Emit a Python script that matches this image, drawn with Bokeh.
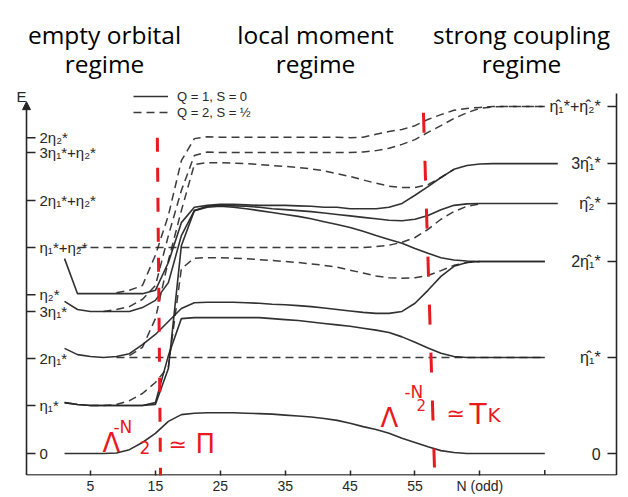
import numpy as np
from bokeh.plotting import figure
from bokeh.models import (Range1d, FixedTicker, Legend, LegendItem,
                          Arrow, NormalHead, ColumnDataSource)
from bokeh.embed import file_html
from bokeh.resources import INLINE
from bokeh.core.properties import value

# ---------------------------------------------------------------- data
# iteration number N (odd) and energy levels E (units of eta1*)
N = [1, 3, 5, 7, 9, 11, 13, 15, 17, 19, 21, 23, 25, 27, 29, 31, 33, 35, 37, 39,
     41, 43, 45, 47, 49, 51, 53, 55, 57, 59, 61, 63, 65, 67, 69, 71, 73, 75, 77]

# Q=1, S=0 (solid)
S_eta2 = [4.06, 3.33, 3.33, 3.33, 3.33, 3.33, 3.33, 3.40, 3.98, 4.81, 5.13, 5.17, 5.19,
          5.19, 5.18, 5.17, 5.17, 5.17, 5.16, 5.15, 5.13, 5.13, 5.10, 5.10, 5.10, 5.13,
          5.21, 5.38, 5.56, 5.75, 5.92, 6.00, 6.03, 6.04, 6.04, 6.04, 6.04, 6.04, 6.04]
S_3eta1 = [3.17, 3.00, 2.96, 2.96, 2.96, 2.96, 3.04, 3.19, 3.56, 4.54, 5.06, 5.15, 5.17,
           5.16, 5.15, 5.13, 5.10, 5.08, 5.06, 5.04, 5.01, 4.98, 4.95, 4.92, 4.89, 4.86,
           4.85, 4.88, 4.96, 5.08, 5.17, 5.20, 5.21, 5.21, 5.21, 5.21, 5.21, 5.21, 5.21]
S_eta1_up = [1.06, 1.02, 1.00, 1.00, 1.00, 1.00, 1.00, 1.02, 1.77, 4.33, 5.06, 5.13, 5.15,
             5.13, 5.10, 5.06, 5.02, 4.98, 4.94, 4.89, 4.83, 4.77, 4.71, 4.63, 4.54, 4.46,
             4.38, 4.27, 4.17, 4.08, 4.03, 4.01, 4.00, 4.00, 4.00, 4.00, 4.00, 4.00, None]
S_2eta1 = [2.19, 2.06, 2.02, 2.00, 2.02, 2.08, 2.27, 2.48, 2.75, 3.02, 3.14, 3.15, 3.15,
           3.15, 3.14, 3.13, 3.11, 3.10, 3.08, 3.06, 3.03, 3.00, 2.97, 2.94, 2.92, 2.92,
           2.96, 3.13, 3.40, 3.69, 3.90, 3.98, 4.00, 4.00, 4.00, 4.00, 4.00, 4.00, None]
S_eta1 = [1.06, 1.02, 1.00, 1.00, 1.00, 1.00, 1.00, 1.06, 2.04, 2.81, 2.83, 2.83, 2.83,
          2.83, 2.83, 2.83, 2.81, 2.79, 2.77, 2.74, 2.71, 2.68, 2.65, 2.61, 2.57, 2.52,
          2.43, 2.32, 2.20, 2.09, 2.02, 2.00, 2.00, 2.00, 2.00, 2.00, 2.00, 2.00, None]
S_zero = [0.00, 0.00, 0.00, 0.00, 0.01, 0.08, 0.23, 0.42, 0.67, 0.81, 0.84, 0.85, 0.85,
          0.85, 0.84, 0.83, 0.82, 0.80, 0.78, 0.76, 0.73, 0.69, 0.63, 0.56, 0.50, 0.42,
          0.32, 0.23, 0.14, 0.06, 0.02, 0.00, 0.00, 0.00, 0.00, 0.00, 0.00, 0.00, None]

# Q=2, S=1/2 (dashed)
D_sum = [None, 4.29, 4.29, 4.29, 4.29, 4.29, 4.29, 4.29, 4.29, 4.29, 4.29, 4.29, 4.29,
         4.29, 4.29, 4.29, 4.29, 4.29, 4.29, 4.29, 4.29, 4.29, 4.29, 4.29, 4.31, 4.34,
         4.40, 4.50, 4.67, 4.88, 5.04, 5.15, 5.20, None, None, None, None, None, None]
D_eta2 = [None, None, None, None, 3.35, 3.40, 3.50, 4.13, 4.96, 6.10, 6.56, 6.60, 6.59,
          6.59, 6.59, 6.59, 6.59, 6.59, 6.59, 6.59, 6.59, 6.59, 6.58, 6.59, 6.65, 6.71,
          6.75, 6.83, 6.96, 7.06, 7.15, 7.19, 7.21, 7.23, 7.23, 7.23, 7.23, 7.23, None]
D_3eta1 = [None, None, None, 2.96, 3.00, 3.06, 3.21, 3.50, 4.54, 5.48, 6.21, 6.28, 6.27,
           6.27, 6.27, 6.27, 6.27, 6.27, 6.27, 6.27, 6.27, 6.27, 6.27, 6.28, 6.31, 6.36,
           6.44, 6.54, 6.69, 6.83, 6.98, 7.10, 7.19, 7.22, 7.23, 7.23, 7.23, 7.23, None]
D_2eta1_up = [None, None, None, None, None, 2.04, 2.21, 2.81, 4.02, 5.06, 6.02, 6.06, 6.06,
              6.05, 6.04, 6.02, 6.00, 5.98, 5.96, 5.93, 5.89, 5.83, 5.77, 5.70, 5.63, 5.57,
              5.54, 5.54, 5.60, 5.75, 5.92, None, None, None, None, None, None, None, None]
D_2eta1 = [None, None, None, None, 2.00, 2.00, 2.00, 2.00, 2.00, 2.00, 2.00, 2.00, 2.00,
           2.00, 2.00, 2.00, 2.00, 2.00, 2.00, 2.00, 2.00, 2.00, 2.00, 2.00, 2.00, 2.00,
           2.00, 2.00, 2.00, 2.00, 2.00, 2.00, 2.00, 2.00, 2.00, 2.00, 2.00, 2.00, None]
D_eta1 = [None, None, 1.00, 1.00, 1.02, 1.10, 1.25, 1.48, 1.81, 3.85, 4.07, 4.08, 4.08,
          4.07, 4.06, 4.04, 4.02, 4.00, 3.98, 3.95, 3.92, 3.88, 3.82, 3.76, 3.70, 3.66,
          3.65, 3.66, 3.71, 3.81, 3.92, 3.98, 4.00, None, None, None, None, None, None]

SOLID = [S_eta2, S_3eta1, S_eta1_up, S_2eta1, S_eta1, S_zero]
DASHED = [D_sum, D_eta2, D_3eta1, D_2eta1_up, D_2eta1, D_eta1]

# axis ticks and labels
X_TICKS = [5, 15, 25, 35, 45, 55, 65]
X_EXTRA_TICK = [75]
LEFT_TICKS = [0.0, 1.0, 1.98, 2.96, 3.31, 4.29, 5.27, 6.27, 6.58]
LEFT_LABELS = ["0", "η₁*", "2η₁*", "3η₁*", "η₂*", "η₁*+η₂*", "2η₁*+η₂*", "3η₁*+η₂*", "2η₂*"]
RIGHT_TICKS = [0.0, 2.0, 4.0, 5.21, 6.04, 7.23]
RIGHT_LABELS = ["0", "η̂₁*", "2η̂₁*", "η̂₂*", "3η̂₁*", "η̂₁*+η̂₂*"]

REGIMES = ["empty orbital", "local moment", "strong coupling"]
REGIME_N = [7.16, 39.67, 71.41]

# red hand annotations (crossover scales)
RED_LINE1 = [15.3, 6.58, 15.8, -0.56]
RED_LINE2 = [56.3, 7.10, 58.0, -0.29]
RED_TEXT = ["Λ", "-N", "2", "≃", "Π", "Λ", "-N", "2", "≃", "T", "K"]
RED_N = [6.85, 8.54, 12.55, 17.02, 21.18, 49.68, 53.38, 55.23, 59.85, 63.40, 66.17]
RED_E = [0.229, 0.542, 0.125, 0.19, 0.208, 0.75, 1.29, 1.02, 0.833, 0.81, 0.81]
RED_SIZE = ["26px", "17px", "17px", "22px", "26px", "26px", "17px", "15px", "22px", "28px", "20px"]

# ---------------------------------------------------------------- style / geometry
INK = "#262626"
RED = "#e8191f"
X0, X1 = -8.867, 87.897          # frame spans the whole page width
Y0, Y1 = -0.458, 9.4375          # frame from page top to the N axis
AXIS_N_LEFT, AXIS_N_RIGHT = -4.86, 86.05
AXIS_E_BOTTOM = -0.449
TICK_LEN_N, TICK_LEN_E = 1.39, 0.105


def arr(v):
    return np.array([np.nan if a is None else a for a in v], dtype=float)


p = figure(frame_width=628, frame_height=475,
           x_range=Range1d(X0, X1), y_range=Range1d(Y0, Y1), y_axis_location=None,
           output_backend="svg", toolbar_location=None,
           min_border_left=0, min_border_right=0, min_border_top=0, min_border_bottom=0,
           outline_line_color=None, background_fill_color="white", border_fill_color="white")
p.grid.visible = False

# bottom axis (labels + inward ticks); its line is drawn between the two vertical axes
xa = p.xaxis[0]
xa.ticker = FixedTicker(ticks=X_TICKS)
xa.major_label_overrides = {65: "N (odd)"}
xa.major_label_text_font = "Liberation Sans"
xa.major_label_text_font_size = "14px"
xa.major_label_text_color = INK
xa.major_label_standoff = 2
xa.major_tick_in = 5
xa.major_tick_out = 0
xa.minor_tick_line_color = None
xa.axis_line_color = None
xa.major_tick_line_color = INK
xa.major_tick_line_width = 1.5

p.segment(x0=[AXIS_N_LEFT], y0=[AXIS_E_BOTTOM], x1=[AXIS_N_RIGHT], y1=[AXIS_E_BOTTOM],
          line_color=INK, line_width=1.6)
p.segment(x0=X_EXTRA_TICK, y0=[AXIS_E_BOTTOM], x1=X_EXTRA_TICK, y1=[AXIS_E_BOTTOM + TICK_LEN_E],
          line_color=INK, line_width=1.5)

# E axis with arrow, right axis line, inward ticks
p.add_layout(Arrow(end=NormalHead(size=8, fill_color=INK, line_color=INK, line_width=1),
                   x_start=AXIS_N_LEFT, y_start=AXIS_E_BOTTOM, x_end=AXIS_N_LEFT, y_end=7.33,
                   line_color=INK, line_width=1.6))
p.segment(x0=[AXIS_N_RIGHT], y0=[AXIS_E_BOTTOM], x1=[AXIS_N_RIGHT], y1=[7.5],
          line_color=INK, line_width=1.6)
p.segment(x0=[AXIS_N_LEFT] * len(LEFT_TICKS), y0=LEFT_TICKS,
          x1=[AXIS_N_LEFT + TICK_LEN_N] * len(LEFT_TICKS), y1=LEFT_TICKS,
          line_color=INK, line_width=1.5)
p.segment(x0=[AXIS_N_RIGHT - TICK_LEN_N] * len(RIGHT_TICKS), y0=RIGHT_TICKS,
          x1=[AXIS_N_RIGHT] * len(RIGHT_TICKS), y1=RIGHT_TICKS,
          line_color=INK, line_width=1.5)
p.text(x=[-6.4], y=[7.44], text=["E"], text_font=value("Liberation Sans"),
       text_font_size="15px", text_color=INK, text_align="left", text_baseline="alphabetic")

# curves
solid_r = [p.line(N, arr(s), line_color=INK, line_width=1.6, line_alpha=0.95) for s in SOLID]
dash_r = [p.line(N, arr(d), line_color=INK, line_width=1.5, line_alpha=0.9, line_dash="8 5")
          for d in DASHED]

# tick labels drawn inside the frame
p.text(x=[-2.86] * len(LEFT_TICKS), y=LEFT_TICKS, text=LEFT_LABELS,
       text_font=value("Liberation Sans"), text_font_size="15px", text_color=INK,
       text_align="left", text_baseline="middle")
p.text(x=[83.6] * len(RIGHT_TICKS), y=RIGHT_TICKS, text=RIGHT_LABELS,
       text_font=value("Liberation Sans"), text_font_size="16px", text_color=INK,
       text_align="right", text_baseline="middle")

# regime headings
p.text(x=REGIME_N, y=[8.73] * 3, text=REGIMES, text_font=value("Open Sans"),
       text_font_size="24.5px", text_color="black", text_align="center",
       text_baseline="alphabetic")
p.text(x=REGIME_N, y=[8.13] * 3, text=["regime"] * 3, text_font=value("Open Sans"),
       text_font_size="24.5px", text_color="black", text_align="center",
       text_baseline="alphabetic")

# red annotations
p.segment(x0=[RED_LINE1[0]], y0=[RED_LINE1[1]], x1=[RED_LINE1[2]], y1=[RED_LINE1[3]],
          line_color=RED, line_width=3, line_dash="14 16")
p.segment(x0=[RED_LINE2[0]], y0=[RED_LINE2[1]], x1=[RED_LINE2[2]], y1=[RED_LINE2[3]],
          line_color=RED, line_width=3, line_dash="20 28")
red_src = ColumnDataSource(dict(x=RED_N, y=RED_E, t=RED_TEXT, s=RED_SIZE))
p.text(x="x", y="y", text="t", text_font_size="s", source=red_src,
       text_font=value("DejaVu Sans"), text_color=RED, text_align="left",
       text_baseline="alphabetic")

# legend
legend = Legend(items=[LegendItem(label="Q = 1, S = 0", renderers=[solid_r[0]]),
                       LegendItem(label="Q = 2, S = ½", renderers=[dash_r[1]])],
                location=(133, 355), glyph_width=35, glyph_height=16, label_height=16,
                label_standoff=9, spacing=0, padding=0, margin=0,
                border_line_color=None, background_fill_alpha=0,
                label_text_font="Liberation Sans", label_text_font_size="13px",
                label_text_color=INK)
p.add_layout(legend)

open("out.html", "w").write(file_html(p, INLINE))
